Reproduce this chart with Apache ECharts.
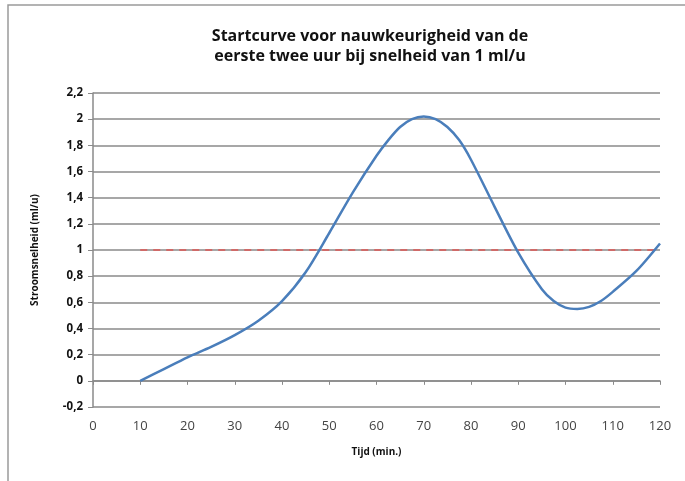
<!DOCTYPE html>
<html>
<head>
<meta charset="utf-8">
<script src="https://cdn.jsdelivr.net/npm/echarts@6/dist/echarts.min.js"></script>
<style>
  html, body { margin: 0; padding: 0; background: #fff; }
  #chart { width: 685px; height: 481px; }
</style>
</head>
<body>
<div id="chart"></div>
<script>
// values
var minutes = [10, 15, 20, 25, 30, 35, 40, 45, 50, 55, 60, 62.5, 65, 67.5, 70, 72.5, 75, 77.5, 80, 85, 90, 95, 97.5, 100, 102.5, 105, 107.5, 110, 115, 120];
var flow = [0, 0.09, 0.18, 0.26, 0.35, 0.46, 0.61, 0.83, 1.13, 1.44, 1.72, 1.84, 1.94, 2.0, 2.02, 2.0, 1.94, 1.84, 1.69, 1.33, 0.98, 0.70, 0.61, 0.56, 0.55, 0.565, 0.61, 0.68, 0.84, 1.05];
var targetX = [10, 120];
var targetY = [1, 1];

var titleText = 'Startcurve voor nauwkeurigheid van de\neerste twee uur bij snelheid van 1 ml/u';
var xTitle = 'Tijd (min.)';
var yTitle = 'Stroomsnelheid (ml/u)';

var font = 'Open Sans';
var gridGrey = '#8a8a8a';

var chart = echarts.init(document.getElementById('chart'), null, { renderer: 'canvas' });

chart.setOption({
  animation: false,
  backgroundColor: '#fff',
  title: {
    text: titleText,
    left: 365,
    top: 21,
    textAlign: 'center',
    textStyle: { fontFamily: font, fontSize: 16, fontWeight: 'bold', color: '#111', lineHeight: 20 }
  },
  graphic: [{
    type: 'rect',
    shape: { x: 8, y: 5, width: 700, height: 500 },
    style: { fill: 'none', stroke: '#9a9a9a', lineWidth: 1.5 },
    z: -1
  }],
  grid: { left: 93, right: 25, top: 93, bottom: 74 },
  xAxis: [{
    type: 'value',
    min: 0, max: 120, interval: 10,
    axisLine: { show: true, onZero: true, lineStyle: { color: gridGrey, width: 1.5 } },
    axisTick: { show: true, inside: false, length: 4, lineStyle: { color: gridGrey } },
    axisLabel: { show: false },
    splitLine: { show: false }
  }, {
    type: 'value',
    position: 'bottom',
    min: 0, max: 120, interval: 10,
    axisLine: { show: false, onZero: false },
    axisTick: { show: false },
    splitLine: { show: false },
    axisLabel: { margin: 13, fontFamily: font, fontSize: 13, color: '#444' },
    name: xTitle,
    nameLocation: 'middle',
    nameGap: 40,
    nameTextStyle: { fontFamily: font, fontSize: 10, fontWeight: 'bold', color: '#111' }
  }],
  yAxis: {
    type: 'value',
    min: -0.2, max: 2.2, interval: 0.2,
    axisLine: { show: true, onZero: false, lineStyle: { color: gridGrey, width: 1.5 } },
    axisTick: { show: true, length: 5, lineStyle: { color: gridGrey } },
    splitLine: { show: true, lineStyle: { color: gridGrey, width: 1.5 } },
    axisLabel: {
      margin: 10,
      fontFamily: font, fontSize: 11.5, fontWeight: 'bold', color: '#111',
      formatter: function (v) { return (Math.round(v * 10) / 10).toString().replace('.', ','); }
    },
    name: yTitle,
    nameLocation: 'middle',
    nameGap: 53,
    nameRotate: 90,
    nameTextStyle: { fontFamily: font, fontSize: 10, fontWeight: 'bold', color: '#111' }
  },
  series: [{
    type: 'line',
    name: 'Grens',
    xAxisIndex: 0,
    data: targetX.map(function (x, i) { return [x, targetY[i]]; }),
    showSymbol: false,
    lineStyle: { color: '#d06a68', width: 2, type: [7, 6] },
    z: 2
  }, {
    type: 'line',
    name: 'Stroomsnelheid',
    xAxisIndex: 0,
    data: minutes.map(function (x, i) { return [x, flow[i]]; }),
    smooth: 0.3,
    showSymbol: false,
    lineStyle: { color: '#4a7ebb', width: 2.5 },
    z: 3
  }]
});
</script>
</body>
</html>
